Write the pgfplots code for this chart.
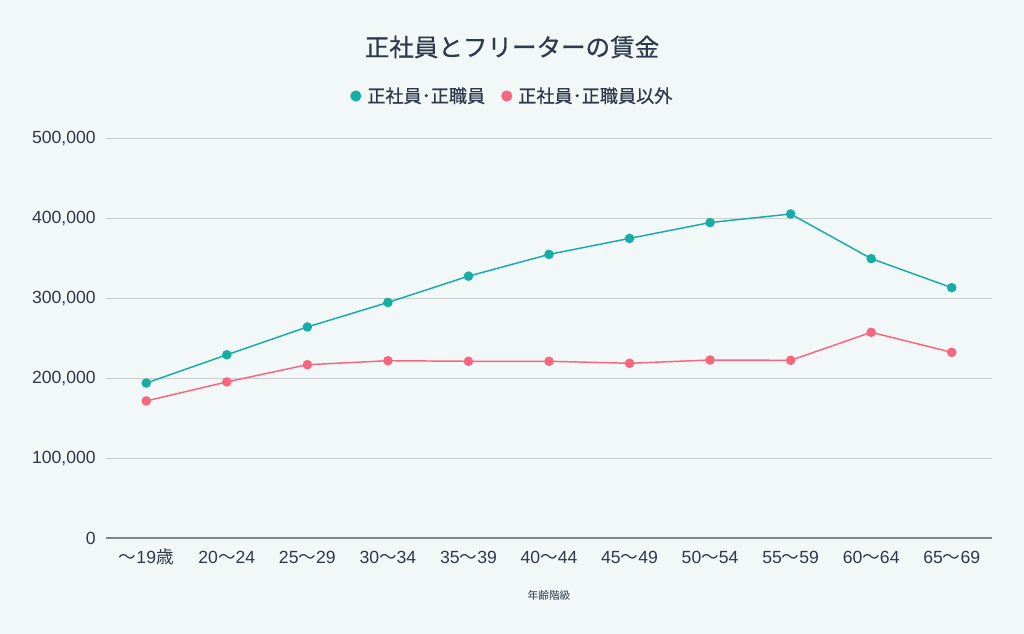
\documentclass[border=0pt]{standalone}
\usepackage{fontspec}
\setmainfont{Noto Sans CJK JP}
\newfontfamily\numfont{Liberation Sans}
\newfontfamily\cjkm{Noto Sans CJK JP}[FakeBold=0.6]
\usepackage{pgfplots}
\pgfplotsset{compat=1.18}
\definecolor{bg}{HTML}{F2F7F7}
\definecolor{teal1}{HTML}{17ADA5}
\definecolor{pink1}{HTML}{F7667F}
\definecolor{txt}{HTML}{2E3A4B}
\definecolor{gridc}{HTML}{C8CDCD}
\definecolor{axc}{HTML}{808585}
\newcommand{\tl}{\normalfont ～\numfont}
\begin{document}
\begin{tikzpicture}
\fill[bg] (0,0) rectangle (768pt,475.5pt);
\node[text=txt, font=\cjkm\fontsize{18.4}{20}\selectfont] at (384pt,440.25pt) {正社員とフリーターの賃金};
\begin{axis}[
  at={(79.5pt,72pt)}, anchor=south west,
  scale only axis, width=664.5pt, height=300pt,
  xmin=-0.5, xmax=10.5, ymin=0, ymax=500000,
  xtick={0,...,10},
  xticklabels={{\tl 19\normalfont 歳},20\tl 24,25\tl 29,30\tl 34,35\tl 39,40\tl 44,45\tl 49,50\tl 54,55\tl 59,60\tl 64,65\tl 69},
  ytick={0,100000,200000,300000,400000,500000},
  yticklabels={0,{100,000},{200,000},{300,000},{400,000},{500,000}},
  scaled y ticks=false,
  axis x line=bottom, axis y line=left,
  y axis line style={draw=none},
  x axis line style={draw=axc, line width=0.8pt, -},
  major tick length=0pt,
  ymajorgrids, grid style={draw=gridc, line width=0.7pt},
  ticklabel style={font=\numfont\fontsize{13.2}{15}\selectfont, text=txt},
  yticklabel style={anchor=east, inner sep=0pt, xshift=-7.5pt},
  xticklabel style={anchor=center, inner sep=0pt, yshift=-14.25pt},
  xlabel={年齢階級},
  xlabel style={at={(axis description cs:0.5,-0.1425)}, anchor=center, font=\fontsize{8}{10}\selectfont, text=txt},
  legend columns=2,
  legend style={at={(axis description cs:0.459,1.105)}, anchor=center, draw=none, fill=none,
    font=\cjkm\fontsize{13.6}{15}\selectfont, text=txt,
    /tikz/every odd column/.append style={column sep=2.5pt},
    /tikz/every even column/.append style={column sep=10pt}},
  legend image code/.code={\fill[#1] (0pt,0pt) circle (3.6pt);},
]
\addplot[color=teal1, line width=1.1pt, mark=*, mark size=3pt] coordinates {
(0,193700) (1,229000) (2,263800) (3,294400) (4,327300) (5,354500) (6,374500) (7,394300) (8,405000) (9,349200) (10,312900)};
\addlegendentry{正社員･正職員}
\addplot[color=pink1, line width=1.1pt, mark=*, mark size=3pt] coordinates {
(0,171300) (1,195100) (2,216600) (3,221600) (4,220900) (5,220900) (6,218400) (7,222500) (8,222100) (9,257100) (10,232100)};
\addlegendentry{正社員･正職員以外}
\end{axis}
\end{tikzpicture}
\end{document}
